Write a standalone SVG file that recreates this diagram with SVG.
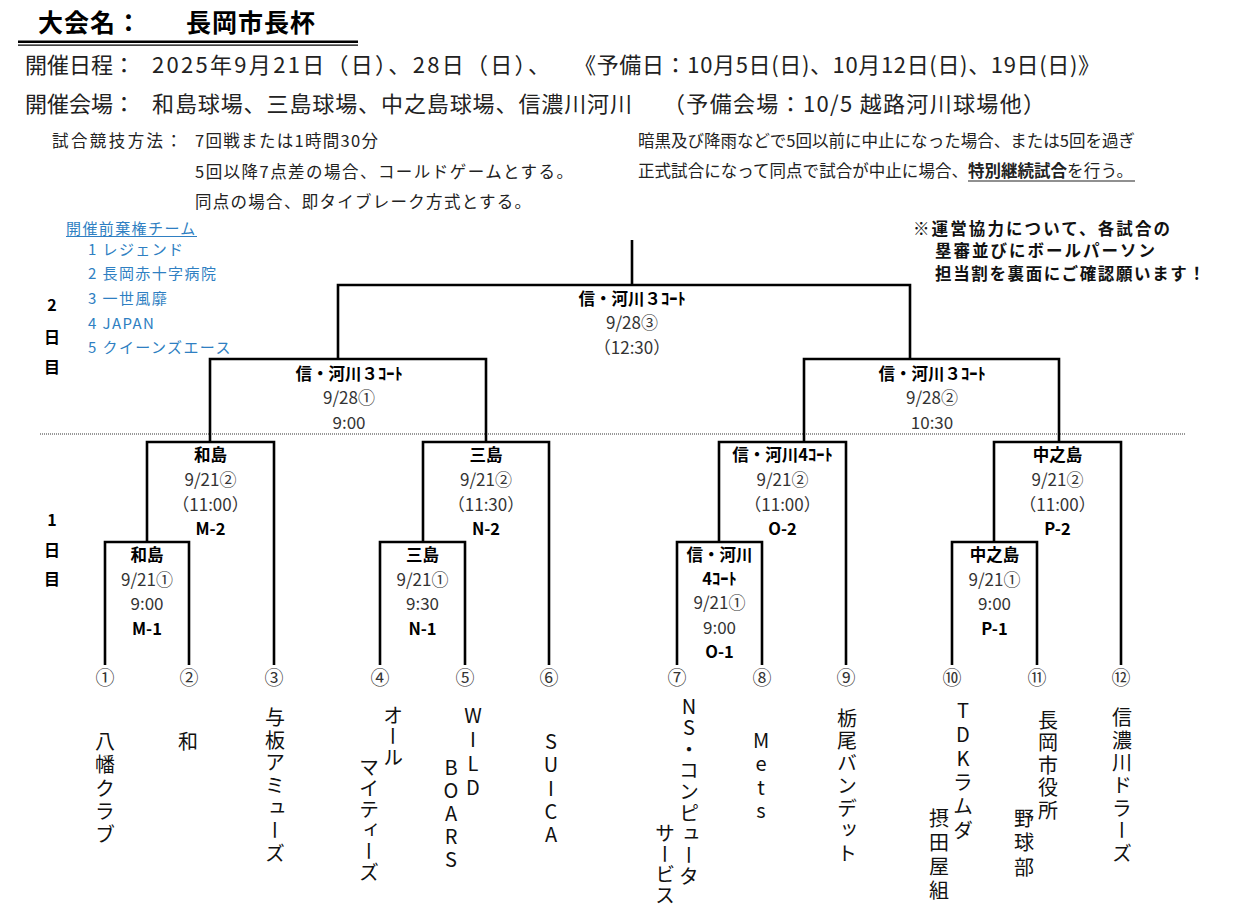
<svg xmlns="http://www.w3.org/2000/svg" width="1240" height="920" viewBox="0 0 1240 920">
<style>
text { font-family: "Noto Sans CJK JP", "Noto Sans", sans-serif; }
.title { font-size: 25px; font-weight: 700; fill: #000; letter-spacing: 1px; }
.hd { font-size: 22px; fill: #222; }
.rule { font-size: 16.5px; fill: #222; }
.note { font-size: 16.5px; font-weight: 700; fill: #111; }
.blue { font-size: 15px; fill: #2f7fc2; letter-spacing: 1.4px; }
.day { font-size: 16px; font-weight: 700; fill: #000; text-anchor: middle; }
.lb { font-size: 16.5px; font-weight: 700; fill: #000; text-anchor: middle; }
.lr { font-size: 17px; fill: #333; text-anchor: middle; }
.num { font-size: 19px; fill: #333; text-anchor: middle; }
.team { font-size: 20px; fill: #111; writing-mode: vertical-rl; text-orientation: upright; }
.ln { fill: none; stroke: #000; stroke-width: 2.6; stroke-linejoin: miter; }
</style>
<rect width="1240" height="920" fill="#fff"/>

<g id="header">
  <text class="title" x="38" y="32">大会名：</text>
  <text class="title" x="186" y="32">長岡市長杯</text>
  <line x1="18" y1="41.8" x2="358" y2="41.8" stroke="#000" stroke-width="2.4"/>
  <line x1="18" y1="45.2" x2="358" y2="45.2" stroke="#000" stroke-width="1.3"/>
  <text class="hd" x="25" y="73">開催日程：</text>
  <text class="hd" x="152" y="73" letter-spacing="2.3">2025年9月21日（日）、28日（日）、</text>
  <text class="hd" x="574" y="73" textLength="526" lengthAdjust="spacing">《予備日：10月5日(日)、10月12日(日)、19日(日)》</text>
  <text class="hd" x="25" y="112">開催会場：</text>
  <text class="hd" x="152" y="112" textLength="480" lengthAdjust="spacing">和島球場、三島球場、中之島球場、信濃川河川</text>
  <text class="hd" x="663" y="112" textLength="382" lengthAdjust="spacing">（予備会場：10/5 越路河川球場他）</text>
  <text class="rule" x="52" y="147" textLength="130" lengthAdjust="spacing">試合競技方法：</text>
  <text class="rule" x="195" y="147" textLength="183" lengthAdjust="spacing">7回戦または1時間30分</text>
  <text class="rule" x="195" y="178" textLength="378" lengthAdjust="spacing">5回以降7点差の場合、コールドゲームとする。</text>
  <text class="rule" x="195" y="208" textLength="336" lengthAdjust="spacing">同点の場合、即タイブレーク方式とする。</text>
  <text class="rule" x="638" y="147" textLength="497" lengthAdjust="spacing">暗黒及び降雨などで5回以前に中止になった場合、または5回を過ぎ</text>
  <text class="rule" x="638" y="177" textLength="330" lengthAdjust="spacing">正式試合になって同点で試合が中止に場合、</text>
  <text class="rule" x="968" y="177" font-weight="700" fill="#000" textLength="99" lengthAdjust="spacing">特別継続試合</text>
  <text class="rule" x="1067" y="177" fill="#555" textLength="66" lengthAdjust="spacing">を行う。</text>
  <line x1="968" y1="181" x2="1135" y2="181" stroke="#222" stroke-width="1.2"/>
</g>

<g id="notice">
  <text class="note" x="913" y="234.5" textLength="257" lengthAdjust="spacing">※運営協力について、各試合の</text>
  <text class="note" x="935" y="256.5" textLength="220" lengthAdjust="spacing">塁審並びにボールパーソン</text>
  <text class="note" x="935" y="279.5" textLength="270" lengthAdjust="spacing">担当割を裏面にご確認願います！</text>
</g>

<g id="withdrawn">
  <text class="blue" x="66" y="234">開催前棄権チーム</text>
  <line x1="66" y1="236.5" x2="197" y2="236.5" stroke="#2f7fc2" stroke-width="1.1"/>
  <text class="blue" x="88" y="255">1 レジェンド</text>
  <text class="blue" x="88" y="279">2 長岡赤十字病院</text>
  <text class="blue" x="88" y="304">3 一世風靡</text>
  <text class="blue" x="88" y="329">4 JAPAN</text>
  <text class="blue" x="88" y="353">5 クイーンズエース</text>
</g>

<g id="day-labels">
  <text class="day" x="52" y="311">2</text>
  <text class="day" x="52" y="343">日</text>
  <text class="day" x="52" y="373">目</text>
  <text class="day" x="52" y="526">1</text>
  <text class="day" x="52" y="556">日</text>
  <text class="day" x="52" y="585">目</text>
  <line x1="40" y1="434" x2="1186" y2="434" stroke="#777" stroke-width="1.6" stroke-dasharray="1 1"/>
</g>

<g id="connectors">
  <path class="ln" d="M632,240 V285 M338,359 V285 H910 V359"/>
  <path class="ln" d="M210,442 V359 H486 V442"/>
  <path class="ln" d="M804,442 V359 H1059 V442"/>
  <path class="ln" d="M147,542 V442 H274 V665"/>
  <path class="ln" d="M105,665 V542 H189 V665"/>
  <path class="ln" d="M423,542 V442 H549 V665"/>
  <path class="ln" d="M380,665 V542 H465 V665"/>
  <path class="ln" d="M719,542 V442 H846 V665"/>
  <path class="ln" d="M677,665 V542 H762 V665"/>
  <path class="ln" d="M994,542 V442 H1121 V665"/>
  <path class="ln" d="M952,665 V542 H1037 V665"/>
</g>

<g id="final">
  <text class="lb" x="632" y="304.5">信・河川３ｺｰﾄ</text>
  <text class="lr" x="632" y="328.5">9/28③</text>
  <text class="lr" x="632" y="353.5">（12:30）</text>
</g>
<g id="semi-left">
  <text class="lb" x="349" y="379.5">信・河川３ｺｰﾄ</text>
  <text class="lr" x="349" y="403.5">9/28①</text>
  <text class="lr" x="349" y="428.5">9:00</text>
</g>
<g id="semi-right">
  <text class="lb" x="932" y="379.5">信・河川３ｺｰﾄ</text>
  <text class="lr" x="932" y="403.5">9/28②</text>
  <text class="lr" x="932" y="428.5">10:30</text>
</g>

<g id="M-2">
  <text class="lb" x="210.5" y="460.5">和島</text>
  <text class="lr" x="210.5" y="486">9/21②</text>
  <text class="lr" x="210.5" y="511">（11:00）</text>
  <text class="lb" x="210.5" y="535">M-2</text>
</g>
<g id="M-1">
  <text class="lb" x="147" y="560.5">和島</text>
  <text class="lr" x="147" y="585.5">9/21①</text>
  <text class="lr" x="147" y="609.5">9:00</text>
  <text class="lb" x="147" y="634.5">M-1</text>
</g>
<g id="N-2">
  <text class="lb" x="486" y="460.5">三島</text>
  <text class="lr" x="486" y="486">9/21②</text>
  <text class="lr" x="486" y="511">（11:30）</text>
  <text class="lb" x="486" y="535">N-2</text>
</g>
<g id="N-1">
  <text class="lb" x="422.5" y="560.5">三島</text>
  <text class="lr" x="422.5" y="585.5">9/21①</text>
  <text class="lr" x="422.5" y="609.5">9:30</text>
  <text class="lb" x="422.5" y="634.5">N-1</text>
</g>
<g id="O-2">
  <text class="lb" x="782.5" y="460.5">信・河川4ｺｰﾄ</text>
  <text class="lr" x="782.5" y="486">9/21②</text>
  <text class="lr" x="782.5" y="511">（11:00）</text>
  <text class="lb" x="782.5" y="535">O-2</text>
</g>
<g id="O-1">
  <text class="lb" x="719.5" y="561">信・河川</text>
  <text class="lb" x="719.5" y="585">4ｺｰﾄ</text>
  <text class="lr" x="719.5" y="609">9/21①</text>
  <text class="lr" x="719.5" y="634">9:00</text>
  <text class="lb" x="719.5" y="658">O-1</text>
</g>
<g id="P-2">
  <text class="lb" x="1057.5" y="460.5">中之島</text>
  <text class="lr" x="1057.5" y="486">9/21②</text>
  <text class="lr" x="1057.5" y="511">（11:00）</text>
  <text class="lb" x="1057.5" y="535">P-2</text>
</g>
<g id="P-1">
  <text class="lb" x="994.5" y="560.5">中之島</text>
  <text class="lr" x="994.5" y="585.5">9/21①</text>
  <text class="lr" x="994.5" y="609.5">9:00</text>
  <text class="lb" x="994.5" y="634.5">P-1</text>
</g>

<g id="seeds">
  <text class="num" x="105" y="685">①</text>
  <text class="num" x="189" y="685">②</text>
  <text class="num" x="274" y="685">③</text>
  <text class="num" x="380" y="685">④</text>
  <text class="num" x="465" y="685">⑤</text>
  <text class="num" x="549" y="685">⑥</text>
  <text class="num" x="677" y="685">⑦</text>
  <text class="num" x="762" y="685">⑧</text>
  <text class="num" x="846" y="685">⑨</text>
  <text class="num" x="952" y="685">⑩</text>
  <text class="num" x="1037" y="685">⑪</text>
  <text class="num" x="1121" y="685">⑫</text>
</g>

<g id="teams">
  <text class="team" x="105" y="731 754 778 801 824">八幡クラブ</text>
  <text class="team" x="188" y="731">和</text>
  <text class="team" x="275" y="707 730 752 775 798 820 843">与板アミューズ</text>
  <text class="team" x="393" y="705 726 747">オール</text>
  <text class="team" x="369" y="757 778 799 820 841 862">マイティーズ</text>
  <text class="team" x="473" y="705 729 753 777">WILD</text>
  <text class="team" x="451" y="757 780 803 826 849">BOARS</text>
  <text class="team" x="551" y="731 754 778 801 824">SUICA</text>
  <text class="team" x="689" y="696 717 739 760 781 803 824 845 866">NS・コンピュータ</text>
  <text class="team" x="665" y="823 844 864 885">サービス</text>
  <text class="team" x="761" y="730 753 777 800">Mets</text>
  <text class="team" x="847" y="708 730.5 753 775.5 798 820.5 843">栃尾バンデット</text>
  <text class="team" x="963" y="700 724 748 772 796 820">TDKラムダ</text>
  <text class="team" x="939" y="808 832 856 880">摂田屋組</text>
  <text class="team" x="1048" y="710 732.5 755 777.5 800">長岡市役所</text>
  <text class="team" x="1024" y="808 832.5 857">野球部</text>
  <text class="team" x="1122" y="707 730 752 775 798 820 843">信濃川ドラーズ</text>
</g>
</svg>
